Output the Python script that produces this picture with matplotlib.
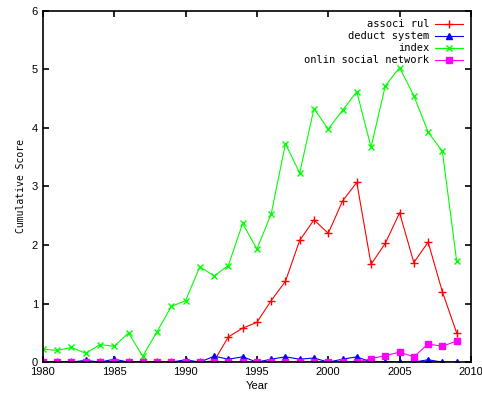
import matplotlib
matplotlib.use("Agg")
import matplotlib.pyplot as plt

years = list(range(1980, 2010))

# scores
associ_rul = [0, 0, 0, 0, 0, 0, 0, 0, 0, 0, 0, 0, 0.02, 0.43, 0.58, 0.68, 1.05, 1.38, 2.08, 2.43,
              2.2, 2.75, 3.07, 1.67, 2.03, 2.55, 1.7, 2.05, 1.2, 0.5]
deduct_system = [0, 0, 0, 0.03, 0, 0.05, 0, 0, 0, 0, 0.04, 0, 0.1, 0.05, 0.09, 0.0, 0.05, 0.09, 0.05, 0.07,
                 0.0, 0.05, 0.09, 0.0, 0.01, 0.0, 0.0, 0.04, 0.0, 0.0]
index = [0.22, 0.2, 0.25, 0.15, 0.3, 0.27, 0.5, 0.1, 0.52, 0.95, 1.05, 1.63, 1.47, 1.65, 2.37, 1.93,
         2.53, 3.73, 3.23, 4.33, 3.98, 4.3, 4.62, 3.67, 4.72, 5.03, 4.55, 3.93, 3.6, 1.73]
onlin_social = [0, 0, 0, 0, 0, 0, 0, 0, 0, 0, 0, 0, 0, 0, 0, 0, 0, 0, 0, 0,
                0, 0, 0, 0.06, 0.11, 0.17, 0.09, 0.31, 0.27, 0.36]

plt.rcParams['font.family'] = ['Liberation Sans', 'DejaVu Sans']
plt.rcParams['font.size'] = 8

fig = plt.figure(figsize=(4.82, 4.01), dpi=100)
ax = fig.add_axes([0.089, 0.097, 0.888, 0.876])

ax.plot(years, associ_rul, color='#ff0000', marker='+', markersize=6, mew=1, lw=0.8, label='associ rul')
ax.plot(years, deduct_system, color='#0000ff', marker='^', markersize=4, lw=0.8, label='deduct system')
ax.plot(years, index, color='#00ff00', marker='x', markersize=5, mew=1, lw=0.8, label='index')
ax.plot(years, onlin_social, color='#ff00ff', marker='s', markersize=4, lw=0.8, label='onlin social network')

ax.set_xlim(1980, 2010)
ax.set_ylim(0, 6)
ax.set_xticks(range(1980, 2011, 5))
ax.set_yticks(range(0, 7))
ax.tick_params(direction='in', top=True, right=True, length=4, width=1.2)
for s in ax.spines.values():
    s.set_linewidth(1.2)
ax.set_xlabel('Year', labelpad=3)
ax.set_ylabel('Cumulative Score', family='DejaVu Sans Mono', size=7)

leg = ax.legend(loc='upper right', frameon=False, markerfirst=False, handlelength=2.6,
                borderaxespad=0.4, labelspacing=0.2, handletextpad=0.6,
                prop={'family': 'DejaVu Sans Mono', 'size': 7.5})
for t in leg.get_texts():
    t.set_ha('right')
leg._legend_box.align = 'right'

fig.savefig('out.png', dpi=100)
